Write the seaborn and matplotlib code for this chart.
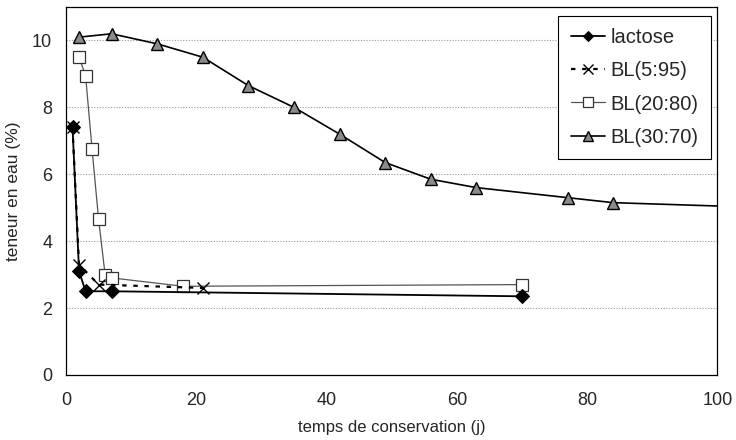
import numpy as np
import pandas as pd
import seaborn as sns
import matplotlib
matplotlib.use("Agg")
from matplotlib import pyplot as plt

# temps de conservation (j) / teneur en eau (%)
lactose_x = [1, 2, 3, 7, 70]
lactose_y = [7.4, 3.1, 2.5, 2.5, 2.35]

bl595_x = [1, 2, 5, 21]
bl595_y = [7.4, 3.3, 2.7, 2.6]

bl2080_x = [2, 3, 4, 5, 6, 7, 18, 70]
bl2080_y = [9.5, 8.95, 6.75, 4.65, 3.0, 2.9, 2.65, 2.7]

bl3070_x = [2, 7, 14, 21, 28, 35, 42, 49, 56, 63, 77, 84, 100]
bl3070_y = [10.1, 10.2, 9.9, 9.5, 8.65, 8.0, 7.2, 6.35, 5.85, 5.6, 5.3, 5.15, 5.05]

x_ticks = [0, 20, 40, 60, 80, 100]
y_ticks = [0, 2, 4, 6, 8, 10]

sns.set_style("white")
plt.rcParams['font.family'] = ['Liberation Sans', 'DejaVu Sans']

fig = plt.figure(figsize=(7.36, 4.4), dpi=100)
ax = fig.add_axes([0.0897, 0.148, 0.885, 0.836])

for y in y_ticks[1:]:
    ax.axhline(y, color='#999999', lw=0.8, ls=(0, (1, 1.5)), zorder=0)

df_lac = pd.DataFrame({"x": lactose_x, "y": lactose_y})
df_595 = pd.DataFrame({"x": bl595_x, "y": bl595_y})
df_2080 = pd.DataFrame({"x": bl2080_x, "y": bl2080_y})
df_3070 = pd.DataFrame({"x": bl3070_x, "y": bl3070_y})

sns.lineplot(data=df_lac, x="x", y="y", ax=ax, label="lactose", color="black",
             lw=1.3, marker="D", markersize=7, markerfacecolor="black",
             markeredgecolor="black", zorder=4)
sns.lineplot(data=df_595, x="x", y="y", ax=ax, label="BL(5:95)", color="black",
             lw=1.6, ls=(0, (2, 3)), marker="x", markersize=9, markeredgewidth=1.0,
             markeredgecolor="black", markerfacecolor="black", zorder=5)
sns.lineplot(data=df_2080, x="x", y="y", ax=ax, label="BL(20:80)", color="#555555",
             lw=0.9, marker="s", markersize=9, markerfacecolor="white",
             markeredgecolor="#333333", markeredgewidth=0.9, zorder=3)
sns.lineplot(data=df_3070, x="x", y="y", ax=ax, label="BL(30:70)", color="black",
             lw=1.2, marker="^", markersize=9, markerfacecolor="#8a8a8a",
             markeredgecolor="black", markeredgewidth=1.0,
             markevery=list(range(len(bl3070_x) - 1)), zorder=4)

ax.set_xlim(0, 100)
ax.set_ylim(0, 11)
ax.set_xticks(x_ticks)
ax.set_yticks(y_ticks)
ax.tick_params(axis='both', labelsize=13, direction='out', length=4,
               width=0.8, color='black', pad=8)
ax.tick_params(axis='y', pad=6)
ax.set_xlabel("temps de conservation (j)", fontsize=12, labelpad=8)
ax.set_ylabel("teneur en eau (%)", fontsize=12.5, labelpad=8)
for s in ax.spines.values():
    s.set_color('black')
    s.set_linewidth(0.9)

leg = ax.legend(loc='upper right', bbox_to_anchor=(0.99, 0.975), fontsize=14.5,
                frameon=True, fancybox=False, edgecolor='black', framealpha=1,
                handlelength=1.7, labelspacing=0.7, handletextpad=0.3,
                borderpad=0.6, borderaxespad=0, markerscale=0.8)
leg.get_frame().set_linewidth(0.8)

fig.savefig("out.png", dpi=100)
